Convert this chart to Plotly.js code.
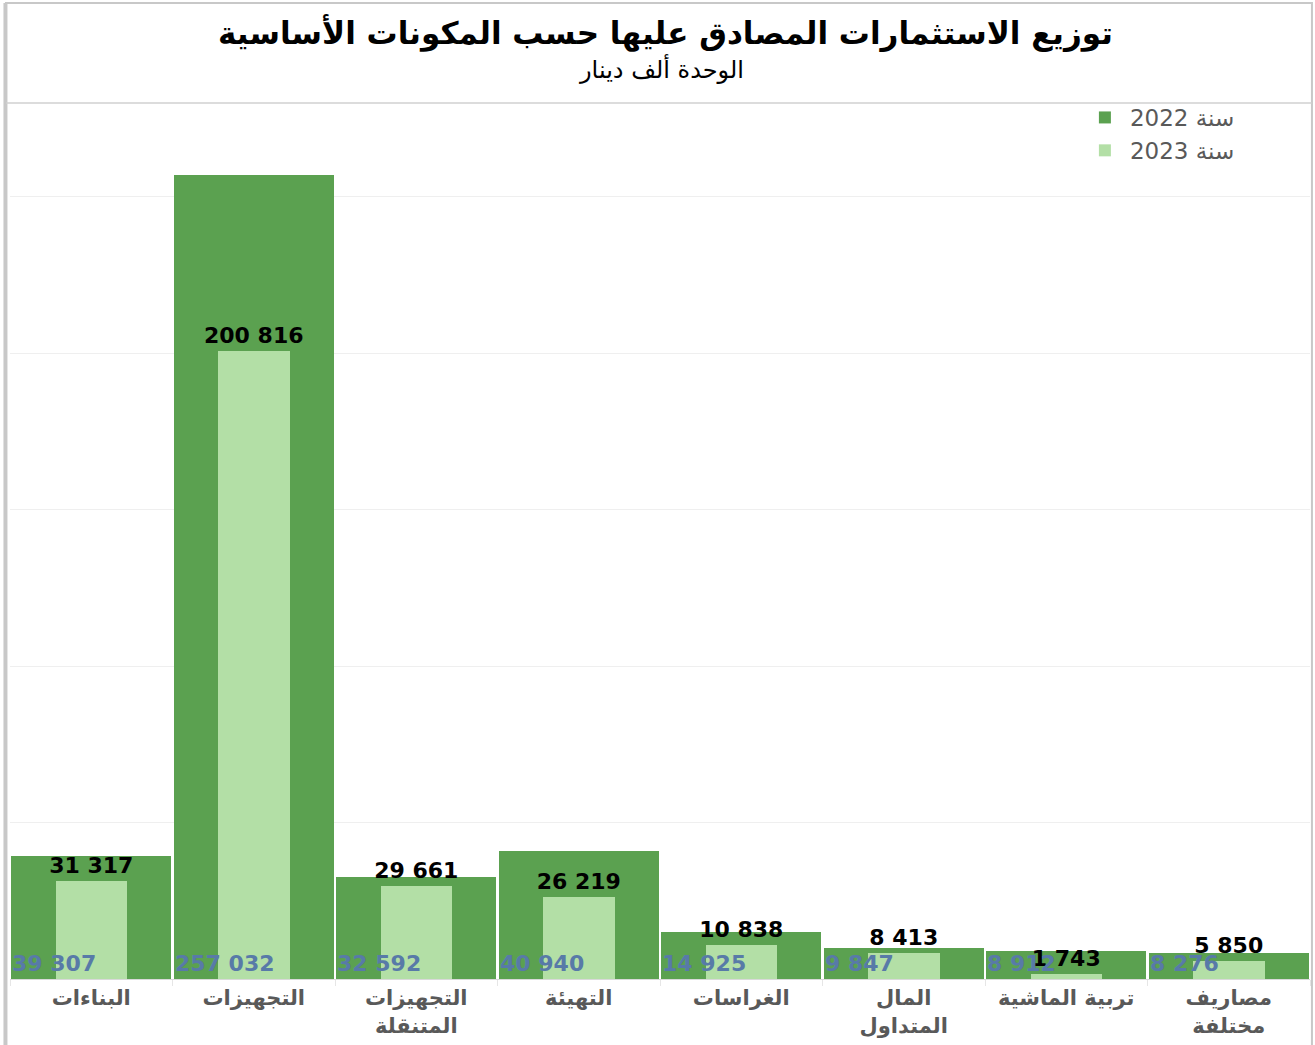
<!DOCTYPE html>
<html>
<head>
<meta charset="utf-8">
<script src="https://cdn.plot.ly/plotly-3.0.1.min.js"></script>
<style>
  html, body { margin: 0; padding: 0; background: #ffffff; }
  #chart { width: 1315px; height: 1045px; }
</style>
</head>
<body>
<div id="chart"></div>
<script>
// ---- data ----
const categories = [
  "البناءات",
  "التجهيزات",
  "التجهيزات<br>المتنقلة",
  "التهيئة",
  "الغراسات",
  "المال<br>المتداول",
  "تربية الماشية",
  "مصاريف<br>مختلفة"
];
const values2022 = [39307, 257032, 32592, 40940, 14925, 9847, 8912, 8276];
const values2023 = [31317, 200816, 29661, 26219, 10838, 8413, 1743, 5850];
const seriesNames = ["سنة 2022", "سنة 2023"];
const titleText = "توزيع الاستثمارات المصادق عليها حسب المكونات الأساسية";
const subtitleText = "الوحدة ألف دينار";

// ---- styles ----
const darkGreen = "#5ba150";
const lightGreen = "#b3dfa6";
const numFont = "DejaVu Sans, Verdana, sans-serif";

function fmt(v) {
  return String(v).replace(/\B(?=(\d{3})+(?!\d))/g, " ");
}

const trace2022 = {
  type: "bar",
  name: seriesNames[0],
  x: categories,
  y: values2022,
  width: categories.map(() => 0.985),
  marker: { color: darkGreen, line: { width: 0 } },
  hoverinfo: "skip"
};

const trace2023 = {
  type: "bar",
  name: seriesNames[1],
  x: categories,
  y: values2023,
  width: categories.map(() => 0.44),
  marker: { color: lightGreen, line: { width: 0 } },
  text: values2023.map(fmt),
  textposition: "outside",
  constraintext: "none",
  cliponaxis: false,
  textfont: { family: numFont, size: 22, color: "#000000", weight: "bold" },
  hoverinfo: "skip"
};

// 2022 value labels at the base, left-aligned inside each dark bar
const annotations = categories.map((c, i) => ({
  x: c,
  y: 0,
  xref: "x",
  yref: "y",
  text: fmt(values2022[i]),
  showarrow: false,
  xanchor: "left",
  yanchor: "bottom",
  xshift: -81,
  yshift: 1,
  font: { family: numFont, size: 22, color: "#587aa8", weight: "bold" }
}));

annotations.push({
  xref: "paper", yref: "paper",
  x: 0.504, y: 1.0799,
  text: "<b>" + titleText + "</b>",
  showarrow: false,
  xanchor: "center", yanchor: "middle",
  font: { family: "DejaVu Sans, sans-serif", size: 31, color: "#000000" }
});
annotations.push({
  xref: "paper", yref: "paper",
  x: 0.501, y: 1.0388,
  text: subtitleText,
  showarrow: false,
  xanchor: "center", yanchor: "middle",
  font: { family: "DejaVu Sans, sans-serif", size: 24, color: "#000000" }
});

const layout = {
  width: 1315,
  height: 1045,
  margin: { l: 10, r: 5, t: 103, b: 66, pad: 0 },
  paper_bgcolor: "#ffffff",
  plot_bgcolor: "#ffffff",
  barmode: "overlay",
  bargap: 0,
  showlegend: true,
  legend: {
    x: 0.823, y: 1.008, xanchor: "left", yanchor: "top",
    bgcolor: "rgba(0,0,0,0)",
    font: { family: "DejaVu Sans, sans-serif", size: 23, color: "#595959" },
    tracegroupgap: 4,
    itemwidth: 40
  },
  xaxis: {
    type: "category",
    showgrid: false,
    showline: true,
    linecolor: "#d9d9d9",
    linewidth: 1,
    ticks: "outside",
    tickson: "boundaries",
    ticklen: 6,
    tickcolor: "#e6e6e6",
    tickfont: { family: "DejaVu Sans, sans-serif", size: 21, color: "#595959", weight: "bold" },
    fixedrange: true
  },
  yaxis: {
    range: [0, 280000],
    dtick: 50000,
    showgrid: true,
    gridcolor: "#efefef",
    gridwidth: 1,
    zeroline: false,
    showticklabels: false,
    ticks: "",
    fixedrange: true
  },
  annotations: annotations,
  shapes: [
    // outer frame
    { type: "rect", xref: "paper", yref: "paper",
      x0: -0.0031, x1: 1.0015, y0: -0.09, y1: 1.1142,
      line: { color: "#c8c8c8", width: 2 }, fillcolor: "rgba(0,0,0,0)", layer: "above" },
    // thicker left edge
    { type: "line", xref: "paper", yref: "paper",
      x0: -0.0035, x1: -0.0035, y0: -0.09, y1: 1.1142,
      line: { color: "#c8c8c8", width: 4 }, layer: "above" },
    // separator under title block
    { type: "line", xref: "paper", yref: "paper",
      x0: -0.0031, x1: 1.0015, y0: 1.0, y1: 1.0,
      line: { color: "#d0d0d0", width: 1.5 }, layer: "above" }
  ]
};

Plotly.newPlot("chart", [trace2022, trace2023], layout, { displayModeBar: false, staticPlot: true });
</script>
</body>
</html>
